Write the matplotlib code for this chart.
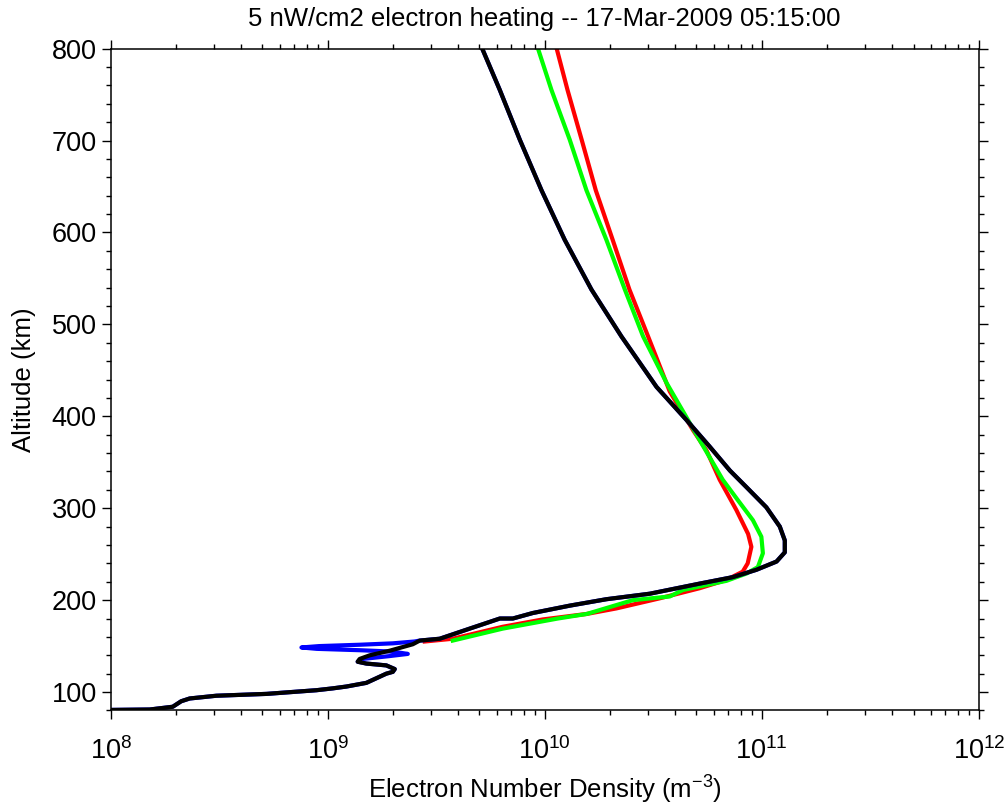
import numpy as np
import matplotlib
matplotlib.use('Agg')
import matplotlib.pyplot as plt
from matplotlib.ticker import MultipleLocator, LogLocator

plt.rcParams['font.family'] = ['Liberation Sans', 'DejaVu Sans']
plt.rcParams['mathtext.fontset'] = 'custom'
plt.rcParams['mathtext.rm'] = 'Liberation Sans'
plt.rcParams['mathtext.it'] = 'Liberation Sans'

# профили: высота (км) и log10 плотности (м^-3)
red_alt = [800, 755, 701, 646, 592, 538, 487, 427, 385, 363, 331, 298, 272, 258,
           240, 231, 222, 213, 202, 191, 185, 179, 171, 158, 155]
red_log = [10.055, 10.105, 10.17, 10.235, 10.313, 10.39, 10.476, 10.576, 10.683,
           10.745, 10.806, 10.883, 10.937, 10.952, 10.935, 10.912, 10.837, 10.714,
           10.53, 10.33, 10.194, 9.991, 9.806, 9.576, 9.447]

green_alt = [800, 755, 701, 646, 592, 538, 487, 436, 374, 331, 309, 287, 269, 251,
             236, 229, 221, 211, 204, 200, 185, 180, 169, 156]
green_log = [9.969, 10.031, 10.115, 10.192, 10.284, 10.369, 10.453, 10.562, 10.714,
             10.82, 10.889, 10.959, 10.998, 11.005, 10.982, 10.93, 10.837, 10.636,
             10.576, 10.406, 10.194, 10.06, 9.806, 9.576]

black_alt = [800, 755, 701, 646, 592, 538, 487, 432, 396, 367, 341, 323, 301, 280,
             265, 252, 242, 233, 225, 218, 207, 201, 194, 186, 180, 180, 169, 158,
             156, 152, 145, 140, 136, 133, 131, 129, 125, 122, 120, 115, 110, 106,
             104, 102, 98, 96, 93, 90, 84, 81, 80.5]
black_log = [9.712, 9.793, 9.885, 9.985, 10.092, 10.215, 10.353, 10.515, 10.653,
             10.76, 10.853, 10.929, 11.021, 11.083, 11.106, 11.106, 11.068, 10.975,
             10.866, 10.714, 10.484, 10.284, 10.115, 9.945, 9.853, 9.793, 9.654,
             9.516, 9.424, 9.392, 9.286, 9.194, 9.147, 9.138, 9.178, 9.27, 9.309,
             9.3, 9.27, 9.224, 9.178, 9.086, 9.023, 8.948, 8.718, 8.487, 8.364,
             8.325, 8.286, 8.18, 7.98]

# синяя кривая совпадает с чёрной, кроме петли у 140-155 км
blue_alt = black_alt[:29] + [155, 153, 151.5, 150, 148.5, 147, 145.5, 144, 141.5,
                              139, 136] + black_alt[33:]
blue_log = black_log[:29] + [9.40, 9.30, 9.15, 8.96, 8.879, 8.95, 9.15, 9.30, 9.369,
                              9.28, 9.16] + black_log[33:]

fig = plt.figure(figsize=(10.06, 8.11), dpi=100)
ax = fig.add_axes([0.110, 0.124, 0.863, 0.816])

lw = 3.0
ax.plot(10 ** np.array(red_log), red_alt, color='#ff0000', lw=lw)
ax.plot(10 ** np.array(green_log), green_alt, color='#00ff00', lw=lw)
ax.plot(10 ** np.array(blue_log), blue_alt, color='#0000ff', lw=lw)
ax.plot(10 ** np.array(black_log), black_alt, color='black', lw=lw)

ax.set_xscale('log')
ax.set_xlim(1e8, 1e12)
ax.set_ylim(80, 800)
ax.yaxis.set_major_locator(MultipleLocator(100))
ax.yaxis.set_minor_locator(MultipleLocator(20))
ax.xaxis.set_major_locator(LogLocator(base=10, numticks=10))
ax.xaxis.set_minor_locator(LogLocator(base=10, subs=np.arange(2, 10), numticks=20))

ax.tick_params(which='both', direction='out', top=True, right=True, width=1, colors='black')
ax.tick_params(which='major', length=6.5, labelsize=19.5)
ax.tick_params(which='minor', length=3.5)
ax.tick_params(axis='x', which='major', pad=13)
for s in ax.spines.values():
    s.set_linewidth(1.1)

ax.set_title('5 nW/cm2 electron heating -- 17-Mar-2009 05:15:00', fontsize=18.5, pad=16)
ax.set_xlabel('Electron Number Density (m$^{-3}$)', fontsize=18.5, labelpad=6)
ax.set_ylabel('Altitude (km)', fontsize=18.5, labelpad=11)

fig.savefig('out.png', dpi=100)
